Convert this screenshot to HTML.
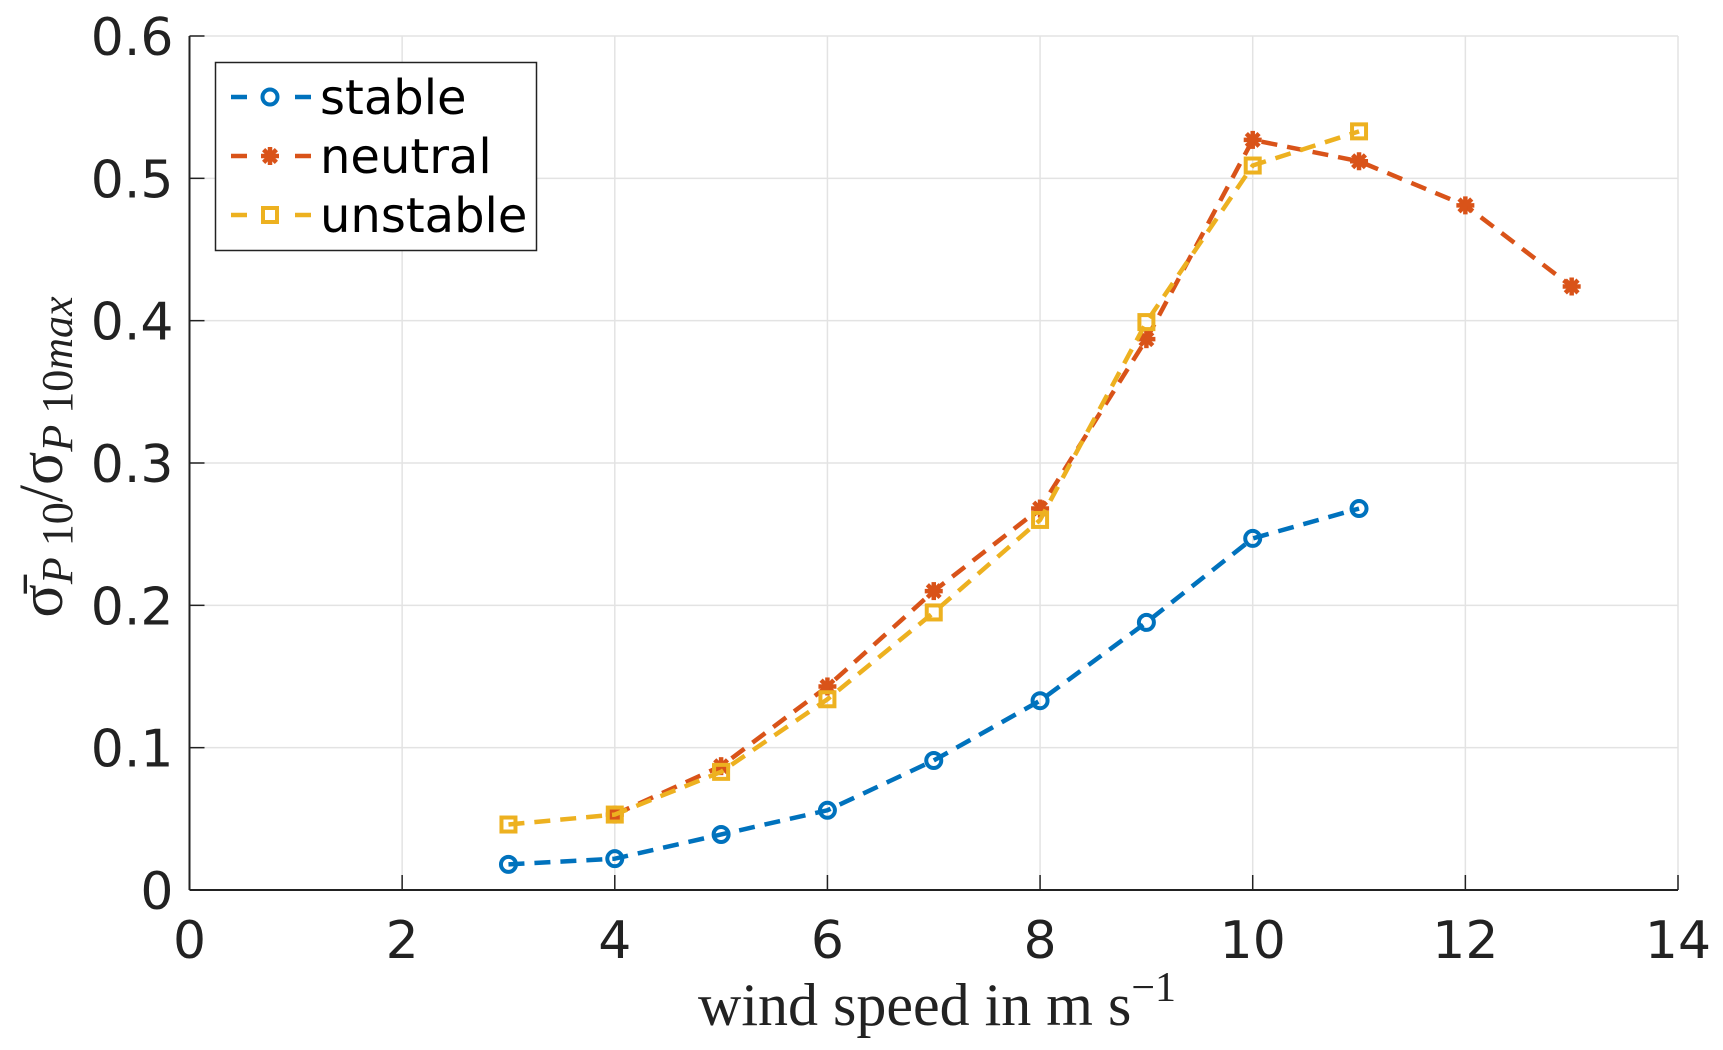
<!DOCTYPE html>
<html><head><meta charset="utf-8"><style>
html,body{margin:0;padding:0;background:#fff;}
svg{display:block;}
</style></head><body>
<svg id="chart" width="1723" height="1050" xmlns="http://www.w3.org/2000/svg">
<g id="grid"></g>
<g id="series"></g>
<g id="axes"></g>
<text x="937" y="1025" text-anchor="middle" font-family="Liberation Serif, serif" font-size="60" fill="#222">wind speed in m s<tspan dy="-24" font-size="42">−1</tspan></text>
<text transform="translate(62,457) rotate(-90)" text-anchor="middle" font-family="Liberation Serif, serif" font-size="62" fill="#222">σ̄<tspan font-style="italic" font-size="44" dy="10">P</tspan><tspan font-size="44"> 10</tspan><tspan dy="-10">/σ</tspan><tspan font-style="italic" font-size="44" dy="10">P</tspan><tspan font-size="44"> 10</tspan><tspan font-style="italic" font-size="44">max</tspan></text>
<g>
<rect x="215.5" y="62.5" width="321" height="188" fill="#fff" stroke="#222" stroke-width="1.5"/>
<g id="legend"></g>
</g>
</svg>
<script>
const xTicks=[0,2,4,6,8,10,12,14];
const yTicks=[0,0.1,0.2,0.3,0.4,0.5,0.6];
const stableX=[3,4,5,6,7,8,9,10,11];
const stableY=[0.018,0.022,0.039,0.056,0.091,0.133,0.188,0.247,0.268];
const neutralX=[4,5,6,7,8,9,10,11,12,13];
const neutralY=[0.053,0.087,0.143,0.210,0.268,0.387,0.527,0.512,0.481,0.424];
const unstableX=[3,4,5,6,7,8,9,10,11];
const unstableY=[0.046,0.053,0.083,0.134,0.195,0.260,0.399,0.509,0.533];
const L=189.5,R=1678,T=36,B=890;
const sx=v=>L+(v-0)/14*(R-L);
const sy=v=>B-(v-0)/0.6*(B-T);
const NS="http://www.w3.org/2000/svg";
function mk(tag,attrs,parent){const e=document.createElementNS(NS,tag);for(const k in attrs)e.setAttribute(k,attrs[k]);parent.appendChild(e);return e;}
const grid=document.getElementById('grid'),axes=document.getElementById('axes'),ser=document.getElementById('series'),leg=document.getElementById('legend');
xTicks.forEach(t=>{
 const g=mk('line',{x1:sx(t),x2:sx(t),y1:T,y2:B,stroke:'#e3e3e3','stroke-width':1.5},grid);
 
 
 const tk=mk('line',{x1:sx(t),x2:sx(t),y1:B,y2:B-15,stroke:'#222','stroke-width':1.5},axes);
 
 
 const lb=mk('text',{x:sx(t),y:B+68,'text-anchor':'middle','font-family':'DejaVu Sans, Liberation Sans, sans-serif','font-size':52,fill:'#222'},axes);
 lb.textContent=t;
 
 
});
yTicks.forEach(t=>{
 const g=mk('line',{x1:L,x2:R,y1:sy(t),y2:sy(t),stroke:'#e3e3e3','stroke-width':1.5},grid);
 
 
 const tk=mk('line',{x1:L,x2:L+15,y1:sy(t),y2:sy(t),stroke:'#222','stroke-width':1.5},axes);
 
 
 const lb=mk('text',{x:L-16,y:sy(t)+19,'text-anchor':'end','font-family':'DejaVu Sans, Liberation Sans, sans-serif','font-size':52,fill:'#222'},axes);
 lb.textContent=t===0?'0':t.toFixed(1);
 
 
});
const xa=mk('line',{x1:L,x2:R,y1:B,y2:B,stroke:'#222','stroke-width':2},axes);


const ya=mk('line',{x1:L,x2:L,y1:T,y2:B,stroke:'#222','stroke-width':2},axes);


function marker(kind,x,y,c,parent){
 let m;
 if(kind==='circle'){m=mk('circle',{cx:x,cy:y,r:7.5,fill:'none',stroke:c,'stroke-width':4},parent);}
 else if(kind==='square'){m=mk('rect',{x:x-7,y:y-7,width:14,height:14,fill:'none',stroke:c,'stroke-width':4},parent);}
 else {m=mk('g',{},parent);for(let a=0;a<180;a+=45){const r=a*Math.PI/180;mk('line',{x1:x-9*Math.cos(r),y1:y-9*Math.sin(r),x2:x+9*Math.cos(r),y2:y+9*Math.sin(r),stroke:c,'stroke-width':4.5},m);}}
 return m;
}
const series=[
 {name:'stable',xs:stableX,ys:stableY,c:'#0072BD',m:'circle'},
 {name:'neutral',xs:neutralX,ys:neutralY,c:'#D95319',m:'star'},
 {name:'unstable',xs:unstableX,ys:unstableY,c:'#EDB120',m:'square'}];
series.forEach((s,i)=>{
 const g=mk('g',{},ser);
 
 
 const pts=s.xs.map((x,j)=>sx(x)+','+sy(s.ys[j])).join(' ');
 const pl=mk('polyline',{points:pts,fill:'none',stroke:s.c,'stroke-width':4.5,'stroke-dasharray':'16 10'},g);
 
 
 s.xs.forEach((x,j)=>{
  const m=marker(s.m,sx(x),sy(s.ys[j]),s.c,g);
  
  
 });
 const yy=97+i*59;
 const le=mk('g',{},leg);
 
 
 mk('line',{x1:231,x2:247,y1:yy,y2:yy,stroke:s.c,'stroke-width':4.5},le);
 mk('line',{x1:295,x2:311,y1:yy,y2:yy,stroke:s.c,'stroke-width':4.5},le);
 marker(s.m,270,yy,s.c,le);
 const t=mk('text',{x:320,y:yy+17,'font-family':'DejaVu Sans, Liberation Sans, sans-serif','font-size':48,fill:'#000'},le);
 t.textContent=s.name;
});
</script>
</body></html>
